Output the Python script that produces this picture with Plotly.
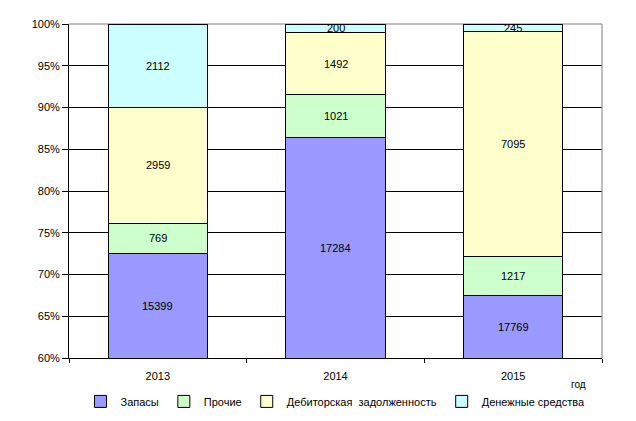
import plotly.graph_objects as go

years = ["2013", "2014", "2015"]
zapasy = [15399, 17284, 17769]
prochie = [769, 1021, 1217]
debitor = [2959, 1492, 7095]
denezhnye = [2112, 200, 245]

series = [
    ("Запасы", zapasy, "#9999FF"),
    ("Прочие", prochie, "#CCFFCC"),
    ("Дебиторская  задолженность", debitor, "#FFFFCC"),
    ("Денежные средства", denezhnye, "#CCFFFF"),
]

tickvals = [60, 65, 70, 75, 80, 85, 90, 95, 100]
ticktext = [f"{v}%" for v in tickvals]
YMIN, YMAX = 60, 100

FONT = "Liberation Sans, Arial, sans-serif"

fig = go.Figure()
for name, vals, color in series:
    fig.add_trace(go.Bar(
        x=years, y=vals, name=name,
        marker=dict(color=color, line=dict(color="black", width=1)),
        hoverinfo="skip",
    ))

# data labels centred in the visible part of each segment
annotations = []
for i, yr in enumerate(years):
    total = sum(s[1][i] for s in series)
    cum = 0.0
    for name, vals, color in series:
        lo = cum / total * 100
        cum += vals[i]
        hi = cum / total * 100
        vlo, vhi = max(lo, YMIN), min(hi, YMAX)
        if vhi <= vlo:
            continue
        annotations.append(dict(x=i, y=(vlo + vhi) / 2, xref="x", yref="y",
                                text=str(vals[i]), showarrow=False,
                                font=dict(family=FONT, size=11, color="black")))

annotations.append(dict(text="год", xref="paper", yref="paper", x=0.956, y=-0.08,
                        showarrow=False, font=dict(family=FONT, size=10),
                        xanchor="center", yanchor="middle"))

fig.update_layout(
    barmode="stack",
    barnorm="percent",
    bargap=0.44,
    width=636, height=421,
    margin=dict(l=69, r=34, t=24, b=63, autoexpand=False),
    paper_bgcolor="white",
    plot_bgcolor="white",
    font=dict(family=FONT, size=11, color="black"),
    showlegend=True,
    legend=dict(orientation="h", x=0.5, xanchor="center", y=-0.13, yanchor="middle",
                font=dict(family=FONT, size=11), itemwidth=30, tracegroupgap=0,
                traceorder="normal"),
    xaxis=dict(type="category", showline=True, linecolor="black", linewidth=1,
               ticks="outside", ticklen=4, tickcolor="black", tickson="boundaries",
               ticklabelstandoff=8,
               tickfont=dict(family=FONT, size=11)),
    yaxis=dict(range=[YMIN, YMAX], tickvals=tickvals, ticktext=ticktext,
               showgrid=True, gridcolor="black", gridwidth=1,
               showline=True, linecolor="black", linewidth=1,
               ticks="outside", ticklen=6, tickcolor="black",
               tickfont=dict(family=FONT, size=11), zeroline=False),
    shapes=[
        dict(type="line", xref="paper", yref="paper", x0=0, x1=1, y0=1, y1=1,
             line=dict(color="#808080", width=1), layer="below"),
        dict(type="line", xref="paper", yref="paper", x0=1, x1=1, y0=0, y1=1,
             line=dict(color="#808080", width=1), layer="above"),
    ],
    annotations=annotations,
)

fig.write_html("out.html")
